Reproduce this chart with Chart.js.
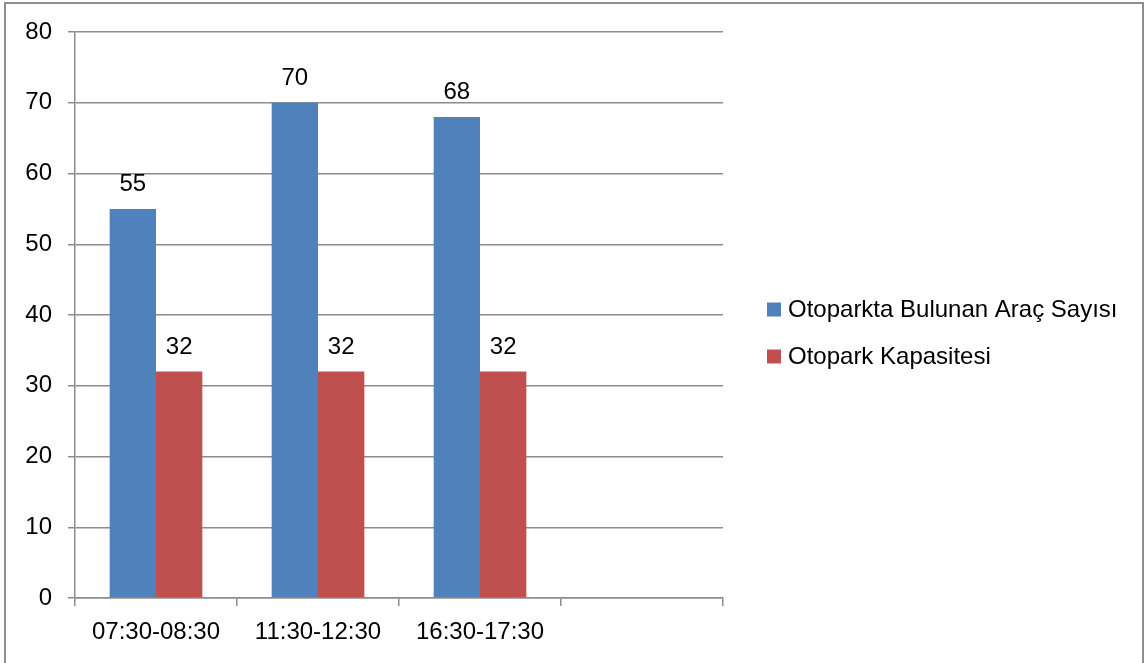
<!DOCTYPE html>
<html>
<head>
<meta charset="utf-8">
<script src="https://cdn.jsdelivr.net/npm/chart.js@4.4.1/dist/chart.umd.min.js"></script>
<style>
  html, body { margin: 0; padding: 0; background: #ffffff; }
  #wrap { position: relative; width: 1147px; height: 663px; overflow: hidden; }
  #frame { position: absolute; left: 4px; top: 2px; width: 1136px; height: 700px;
           border: 2px solid #8e8e8e; border-bottom: none; pointer-events: none; }
  canvas { position: absolute; left: 0; top: 0; }
</style>
</head>
<body>
<div id="wrap">
  <canvas id="c" width="1147" height="663"></canvas>
  <div id="frame"></div>
</div>
<script>
const categories = ['07:30-08:30', '11:30-12:30', '16:30-17:30', ''];
const seriesNames = ['Otoparkta Bulunan Araç Sayısı', 'Otopark Kapasitesi'];
const aracSayisi = [55, 70, 68, null];
const kapasite = [32, 32, 32, null];
const seriesColors = ['#4F81BD', '#C0504D'];
const yTicks = [0, 10, 20, 30, 40, 50, 60, 70, 80];

const FONT = 'Liberation Sans, Arial, sans-serif';
const GRID = '#8c8c8c';

const dataLabels = {
  id: 'dataLabels',
  afterDatasetsDraw(chart) {
    const ctx = chart.ctx;
    ctx.save();
    ctx.font = '24px ' + FONT;
    ctx.fillStyle = '#000';
    ctx.textAlign = 'center';
    ctx.textBaseline = 'alphabetic';
    chart.data.datasets.forEach((ds, i) => {
      const meta = chart.getDatasetMeta(i);
      meta.data.forEach((el, j) => {
        const v = ds.data[j];
        if (v === null || v === undefined) return;
        ctx.fillText(String(v), el.x, el.y - 18);
      });
    });
    ctx.restore();
  }
};

const sideLegend = {
  id: 'sideLegend',
  afterDraw(chart) {
    const ctx = chart.ctx;
    ctx.save();
    ctx.font = '24px ' + FONT;
    ctx.textBaseline = 'middle';
    ctx.textAlign = 'left';
    const x0 = chart.chartArea.right + 44;
    const yc = (chart.chartArea.top + chart.chartArea.bottom) / 2 + 18;
    const gap = 47;
    const n = chart.data.datasets.length;
    chart.data.datasets.forEach((ds, i) => {
      const y = yc + (i - (n - 1) / 2) * gap;
      ctx.fillStyle = ds.backgroundColor;
      ctx.fillRect(x0, y - 7, 14, 14);
      ctx.fillStyle = '#000';
      ctx.fillText(ds.label, x0 + 21, y + 1);
    });
    ctx.restore();
  }
};

new Chart(document.getElementById('c'), {
  type: 'bar',
  data: {
    labels: categories,
    datasets: [
      { label: seriesNames[0], data: aracSayisi, backgroundColor: seriesColors[0] },
      { label: seriesNames[1], data: kapasite, backgroundColor: seriesColors[1] }
    ]
  },
  options: {
    responsive: false,
    animation: false,
    devicePixelRatio: 1,
    layout: { padding: { left: 5, top: 32, right: 424, bottom: 0 } },
    datasets: { bar: { categoryPercentage: 0.572, barPercentage: 1.0 } },
    plugins: { legend: { display: false }, tooltip: { enabled: false } },
    scales: {
      x: {
        offset: true,
        grid: { offset: true, drawOnChartArea: false, drawTicks: true, tickLength: 8, color: GRID, lineWidth: 1.5 },
        border: { color: GRID, width: 1.5 },
        ticks: { color: '#000', font: { family: FONT, size: 24 }, padding: 12, maxRotation: 0, autoSkip: false },
        afterFit(s) { s.height = 65; }
      },
      y: {
        min: 0, max: 80,
        afterBuildTicks(s) { s.ticks = yTicks.map(v => ({ value: v })); },
        grid: { color: GRID, lineWidth: 1.5, tickLength: 7 },
        border: { color: GRID, width: 1.5 },
        ticks: { color: '#000', font: { family: FONT, size: 24 }, padding: 16 },
        afterFit(s) { s.width = 70; }
      }
    }
  },
  plugins: [dataLabels, sideLegend]
});
</script>
</body>
</html>
